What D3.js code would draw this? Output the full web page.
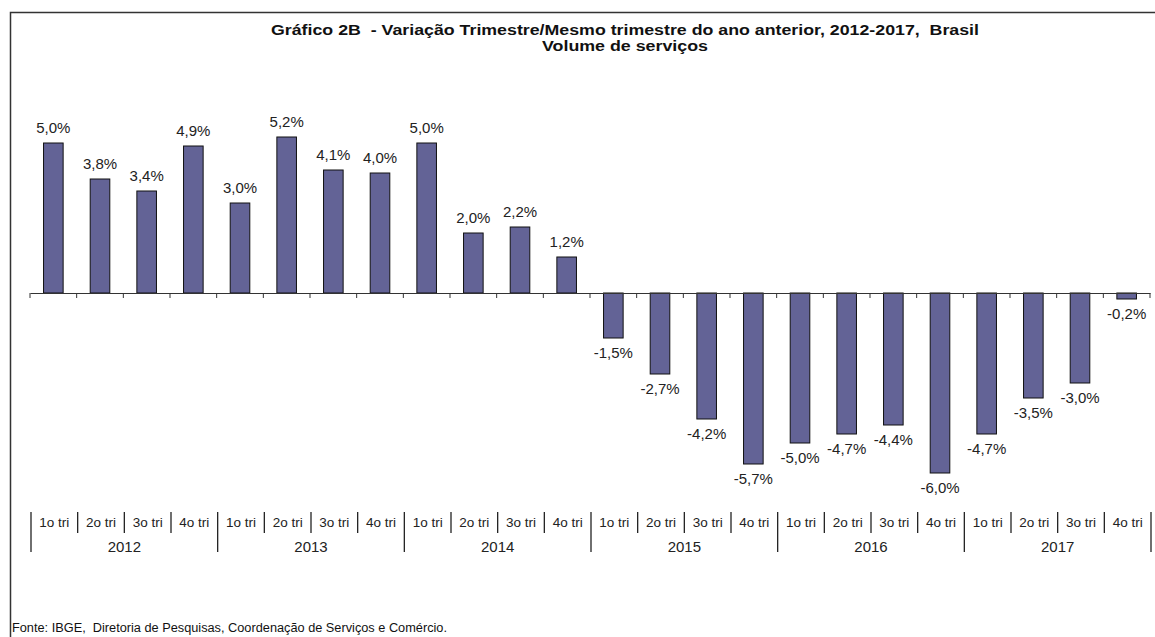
<!DOCTYPE html>
<html><head><meta charset="utf-8">
<script src="https://cdn.jsdelivr.net/npm/d3@7/dist/d3.min.js"></script>
<style>
html,body{margin:0;padding:0;background:#fff;}
svg text{font-family:"Liberation Sans",Arial,sans-serif;white-space:pre;}
</style></head>
<body><svg id="c" width="1155" height="637"></svg>
<script>
const years = ["2012","2013","2014","2015","2016","2017"];
const quarters = ["1o tri","2o tri","3o tri","4o tri"];
const values = [5.0,3.8,3.4,4.9,3.0,5.2,4.1,4.0,5.0,2.0,2.2,1.2,-1.5,-2.7,-4.2,-5.7,-5.0,-4.7,-4.4,-6.0,-4.7,-3.5,-3.0,-0.2];
const titleLine1 = "Gráfico 2B  - Variação Trimestre/Mesmo trimestre do ano anterior, 2012-2017,  Brasil";
const titleLine2 = "Volume de serviços";
const source = "Fonte: IBGE,  Diretoria de Pesquisas, Coordenação de Serviços e Comércio.";

(function(){
const cats = [];
years.forEach(yr => quarters.forEach(q => cats.push(yr + "|" + q)));
const data = cats.map((c, i) => ({key: c, year: c.split("|")[0], q: c.split("|")[1], v: values[i]}));

const svg = d3.select("#c");
const x = d3.scaleBand().domain(cats).range([30, 1150]).padding(0);
const y = d3.scaleLinear().domain([-6, 5.2]).range([473, 137]);
const bw = x.bandwidth() * 0.42;
const fmt = v => d3.format(".1f")(v).replace(".", ",").replace("−","-") + "%";

// frame
svg.append("path").attr("d", "M10.5,637 L10.5,12.5 L1155,12.5").attr("fill","none").attr("stroke","#333").attr("stroke-width",1.5);

// title
svg.append("text").attr("x", 625).attr("y", 35).attr("text-anchor","middle").attr("font-weight","bold").attr("font-size",14).attr("fill","#111")
  .attr("textLength", 708).attr("lengthAdjust","spacingAndGlyphs").text(titleLine1);
svg.append("text").attr("x", 625).attr("y", 51).attr("text-anchor","middle").attr("font-weight","bold").attr("font-size",14).attr("fill","#111")
  .attr("textLength", 166).attr("lengthAdjust","spacingAndGlyphs").text(titleLine2);

// bars
svg.selectAll("rect.bar").data(data).join("rect").attr("class","bar")
  .attr("x", d => x(d.key) + (x.bandwidth() - bw) / 2)
  .attr("width", bw)
  .attr("y", d => y(Math.max(0, d.v)))
  .attr("height", d => Math.abs(y(d.v) - y(0)))
  .attr("fill", "#636396").attr("stroke", "#111").attr("stroke-width", 1);

// zero axis with ticks
const zeroAxis = d3.axisBottom(x).tickSize(0).tickFormat("");
const gz = svg.append("g").attr("transform", `translate(0,${y(0)})`).call(zeroAxis);
gz.select(".domain").attr("stroke","#333");
svg.append("g").selectAll("line").data(d3.range(cats.length + 1)).join("line")
  .attr("x1", i => 30 + i * x.step()).attr("x2", i => 30 + i * x.step())
  .attr("y1", y(0)).attr("y2", y(0) + 5).attr("stroke","#333");

// data labels
svg.selectAll("text.lbl").data(data).join("text").attr("class","lbl")
  .attr("x", d => x(d.key) + x.bandwidth() / 2)
  .attr("y", d => d.v >= 0 ? y(d.v) - 10 : y(d.v) + 20)
  .attr("text-anchor","middle").attr("font-size",15).attr("fill","#222")
  .text(d => fmt(d.v));

// bottom category labels
const catTop = 512;
svg.append("g").selectAll("line").data(d3.range(cats.length + 1)).join("line")
  .attr("x1", i => 30 + i * x.step() + 1).attr("x2", i => 30 + i * x.step() + 1)
  .attr("y1", catTop).attr("y2", i => i % 4 === 0 ? catTop + 40 : catTop + 21)
  .attr("stroke","#222").attr("stroke-width",1.3);
svg.selectAll("text.q").data(data).join("text").attr("class","q")
  .attr("x", d => x(d.key) + x.bandwidth() / 2 + 1).attr("y", catTop + 15)
  .attr("text-anchor","middle").attr("font-size",13.5).attr("fill","#222").text(d => d.q);
svg.selectAll("text.yr").data(years).join("text").attr("class","yr")
  .attr("x", yr => (x(yr + "|" + quarters[0]) + x(yr + "|" + quarters[3]) + x.bandwidth()) / 2 + 1)
  .attr("y", catTop + 40).attr("text-anchor","middle").attr("font-size",15).attr("fill","#222").text(yr => yr);

// source
svg.append("text").attr("x", 12).attr("y", 632).attr("font-size",12).attr("fill","#111")
  .attr("textLength", 435).attr("lengthAdjust","spacingAndGlyphs").text(source);
})();
</script></body></html>
